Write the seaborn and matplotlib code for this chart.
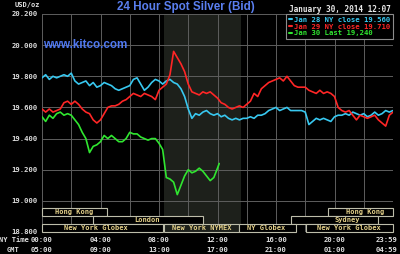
import numpy as np
import pandas as pd
import matplotlib
matplotlib.use("Agg")
import matplotlib.pyplot as plt
from matplotlib.patches import Rectangle
from matplotlib.lines import Line2D
from matplotlib.font_manager import FontProperties
from matplotlib.transforms import blended_transform_factory
import seaborn as sns

# ---------------- data ----------------
step_min = 15  # samples every 15 minutes, NY time from 00:00
jan28 = [19.79, 19.81, 19.78, 19.80, 19.79, 19.80, 19.81, 19.80, 19.82, 19.77,
         19.75, 19.76, 19.77, 19.74, 19.76, 19.73, 19.74, 19.76, 19.75, 19.74,
         19.72, 19.71, 19.72, 19.73, 19.74, 19.78, 19.79, 19.75, 19.71, 19.73,
         19.76, 19.78, 19.77, 19.75, 19.77, 19.78, 19.76, 19.75, 19.72, 19.67,
         19.59, 19.53, 19.56, 19.55, 19.57, 19.58, 19.56, 19.55, 19.56, 19.54,
         19.55, 19.53, 19.52, 19.53, 19.52, 19.53, 19.53, 19.54, 19.53, 19.55,
         19.55, 19.56, 19.58, 19.59, 19.60, 19.58, 19.59, 19.60, 19.58, 19.58,
         19.58, 19.58, 19.57, 19.49, 19.51, 19.53, 19.52, 19.53, 19.52, 19.51,
         19.54, 19.55, 19.55, 19.56, 19.55, 19.57, 19.56, 19.55, 19.56, 19.54,
         19.55, 19.57, 19.55, 19.56, 19.58, 19.57, 19.58]
jan29 = [19.59, 19.57, 19.59, 19.57, 19.58, 19.59, 19.63, 19.64, 19.62, 19.64,
         19.62, 19.59, 19.57, 19.56, 19.52, 19.50, 19.52, 19.56, 19.60, 19.61,
         19.61, 19.62, 19.64, 19.65, 19.67, 19.69, 19.68, 19.67, 19.69, 19.68,
         19.67, 19.65, 19.71, 19.73, 19.75, 19.81, 19.96, 19.92, 19.88, 19.83,
         19.75, 19.70, 19.69, 19.68, 19.70, 19.69, 19.70, 19.68, 19.66, 19.63,
         19.62, 19.60, 19.59, 19.60, 19.61, 19.60, 19.62, 19.64, 19.69, 19.67,
         19.72, 19.74, 19.76, 19.77, 19.78, 19.79, 19.77, 19.80, 19.77, 19.74,
         19.73, 19.73, 19.73, 19.71, 19.70, 19.69, 19.71, 19.69, 19.70, 19.69,
         19.67, 19.60, 19.58, 19.57, 19.58, 19.55, 19.52, 19.55, 19.54, 19.53,
         19.54, 19.55, 19.52, 19.50, 19.48, 19.55, 19.57]
jan30 = [19.54, 19.51, 19.55, 19.53, 19.56, 19.57, 19.55, 19.56, 19.55, 19.52,
         19.49, 19.44, 19.40, 19.31, 19.35, 19.36, 19.38, 19.42, 19.40, 19.42,
         19.40, 19.38, 19.38, 19.40, 19.44, 19.43, 19.43, 19.41, 19.40, 19.39,
         19.40, 19.40, 19.37, 19.33, 19.15, 19.14, 19.12, 19.04, 19.10, 19.16,
         19.20, 19.18, 19.19, 19.21, 19.19, 19.16, 19.13, 19.15, 19.21]
jan30_last_min = 727   # 12:07
jan30_last = 19.24

series_labels = ["Jan 28 NY close 19.560", "Jan 29 NY close 19.710", "Jan 30 Last 19,240"]
series_colors = ["#38c8f0", "#ff2626", "#30e630"]

yticks = [18.8, 19.0, 19.2, 19.4, 19.6, 19.8, 20.0, 20.2]
tick_hours = [0, 4, 8, 12, 16, 20, 24]
ny_labels = ["00:00", "04:00", "08:00", "12:00", "16:00", "20:00", "23:59"]
gmt_labels = ["05:00", "09:00", "13:00", "17:00", "21:00", "01:00", "04:59"]

nymex_span = (8.34, 13.6)
# (label, start hour, end hour, row, label hour)
sessions = [
    ("Hong Kong", 0.0, 4.45, 0, 2.2),
    ("Hong Kong", 19.55, 24.0, 0, 22.1),
    ("London", 3.5, 11.0, 1, 7.2),
    ("Sydney", 17.0, 23.0, 1, 20.9),
    ("New York Globex", 0.0, 8.3, 2, 3.7),
    ("New York NYMEX", 8.34, 13.5, 2, 10.9),
    ("NY Globex", 13.5, 17.4, 2, 15.3),
    ("New York Globex", 18.05, 24.0, 2, 21.0),
]
row_bounds = [(18.903, 18.954), (18.851, 18.903), (18.800, 18.851)]

# ---------------- frame ----------------
frames = []
for vals, lab in zip([jan28, jan29], series_labels[:2]):
    frames.append(pd.DataFrame({"hour": np.arange(len(vals)) * step_min / 60.0,
                                "price": vals, "series": lab}))
t30 = list(np.arange(len(jan30)) * step_min / 60.0) + [jan30_last_min / 60.0]
frames.append(pd.DataFrame({"hour": t30, "price": jan30 + [jan30_last],
                            "series": series_labels[2]}))
df = pd.concat(frames, ignore_index=True)

sns.set_theme(style="dark")
mono = "DejaVu Sans Mono"
plt.rcParams["font.family"] = ["DejaVu Sans Mono", "DejaVu Sans"]

fig = plt.figure(figsize=(4.0, 2.54), dpi=100, facecolor="black")
ax = fig.add_axes([42 / 400, 1 - 232 / 254, 351 / 400, 218 / 254])
ax.set_facecolor("black")

shade = "#1d201b"
ax.axvspan(*nymex_span, color=shade, zorder=0.2, lw=0)

sns.lineplot(data=df, x="hour", y="price", hue="series", hue_order=series_labels,
             palette=dict(zip(series_labels, series_colors)), estimator=None,
             sort=False, legend=False, lw=1.2, ax=ax, zorder=3)

ax.set_xlim(0, 24)
ax.set_ylim(18.8, 20.2)
ax.set_xticks(np.arange(0, 25, 2))
ax.set_xticklabels([])
ax.set_yticks(yticks)
ax.set_yticklabels([f"{v:.3f}" for v in yticks], fontfamily=mono, fontweight="bold",
                   fontsize=5.2, color="#dcdcdc")
ax.tick_params(axis="both", length=0, pad=3)
ax.set_xlabel("")
ax.set_ylabel("")
ax.grid(True, color="#5e5e5e", lw=0.7, zorder=0.5)
ax.set_axisbelow(True)
for s in ax.spines.values():
    s.set_visible(False)

# session bars
sess_text = "#e6d28a"
for lab, x0, x1, row, lx in sessions:
    y0, y1 = row_bounds[row]
    fc = shade if lab == "New York NYMEX" else "black"
    ax.add_patch(Rectangle((x0, y0), x1 - x0, y1 - y0, facecolor=fc,
                           edgecolor="#bdbdaa", lw=0.8, zorder=1.5, clip_on=False))
    ax.text(lx, (y0 + y1) / 2, lab, ha="center", va="center", fontsize=5,
            fontfamily=mono, fontweight="bold", color=sess_text, zorder=1.6)

# time rows
tr = blended_transform_factory(ax.transData, fig.transFigure)
for h, a, b in zip(tick_hours, ny_labels, gmt_labels):
    xh = h if h < 24 else 23.55
    ax.text(xh, 1 - 240 / 254, a, transform=tr, ha="center", va="center",
            fontsize=5.2, fontfamily=mono, fontweight="bold", color="#e0e0e0")
    ax.text(xh, 1 - 250 / 254, b, transform=tr, ha="center", va="center",
            fontsize=5.2, fontfamily=mono, fontweight="bold", color="#e0e0e0")
fig.text(14 / 400, 1 - 240 / 254, "NY Time", ha="center", va="center", fontsize=5,
         fontfamily=mono, fontweight="bold", color="#e0e0e0")
fig.text(13 / 400, 1 - 250 / 254, "GMT", ha="center", va="center", fontsize=5,
         fontfamily=mono, fontweight="bold", color="#e0e0e0")

# header texts
fig.text(27 / 400, 1 - 5 / 254, "USD/oz", ha="center", va="center", fontsize=5,
         fontfamily=mono, fontweight="bold", color="#e0e0e0")
fig.text(186 / 400, 1 - 7 / 254, "24 Hour Spot Silver (Bid)", ha="center", va="center",
         fontsize=8.4, fontfamily="Liberation Sans", fontweight="bold", color="#5a7ff0")
fig.text(391 / 400, 1 - 9 / 254, "January 30, 2014 12:07", ha="right", va="center",
         fontsize=5.6, fontfamily=mono, fontweight="bold", color="#e8e8e8")
ax.text(0.003, 0.86, "www.kitco.com", transform=ax.transAxes, ha="left", va="center",
        fontsize=8.4, fontfamily="Liberation Sans", fontweight="bold", color="#4f78f0",
        zorder=4)

# legend
handles = [Line2D([0], [0], color=c, lw=1.5) for c in series_colors]
leg = ax.legend(handles, series_labels, loc="upper right", borderaxespad=0,
                handlelength=0.45, handletextpad=0.3, labelcolor=series_colors,
                frameon=True, facecolor="black", edgecolor="#8c8c8c", framealpha=1,
                fancybox=False, borderpad=0.35, labelspacing=0.12,
                prop=FontProperties(family=mono, weight="bold", size=5.2))
leg.get_frame().set_linewidth(0.8)
leg.set_zorder(5)

fig.savefig("out.png", dpi=100, facecolor="black")
